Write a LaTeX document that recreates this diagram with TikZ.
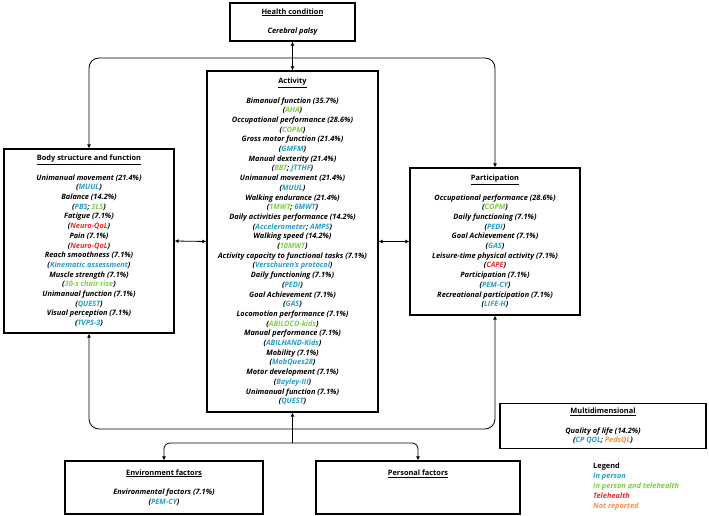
\documentclass[tikz,border=0pt]{standalone}
\usepackage{fontspec}
\setmainfont{Open Sans}
\usepackage{tikz}
\usetikzlibrary{arrows.meta}
\definecolor{inperson}{RGB}{35,158,200}
\definecolor{hybrid}{RGB}{125,205,70}
\definecolor{telecol}{RGB}{232,45,40}
\definecolor{notrepcol}{RGB}{245,145,70}
\newcommand{\inp}[1]{\textcolor{inperson}{#1}}
\newcommand{\hyb}[1]{\textcolor{hybrid}{#1}}
\newcommand{\tele}[1]{\textcolor{telecol}{#1}}
\newcommand{\notrep}[1]{\textcolor{notrepcol}{#1}}
\newcommand{\ttl}[1]{{\upshape\underline{#1}}\\[9.7pt]}

\begin{document}
\begin{tikzpicture}[x=1pt, y=-1pt,
    box/.style={draw, line width=1.2pt, align=center, inner sep=0pt,
      font=\fontsize{7.4}{9.7}\selectfont\bfseries\itshape},
    link/.style={line width=0.8pt, -{Latex[length=4pt,width=4pt]}},
    twoway/.style={line width=0.8pt, {Latex[length=4pt,width=4pt]}-{Latex[length=4pt,width=4pt]}}]
    \useasboundingbox (0,0) rectangle (709,516);

    \node[box, minimum width=125pt, minimum height=38pt] (health) at (292.5,22)
      {\ttl{Health condition}Cerebral palsy};

    \node[box, minimum width=171pt, minimum height=341pt] (activity) at (292.5,241.5)
      {\ttl{Activity}
       Bimanual function (35.7\%)\\(\hyb{AHA})\\
       Occupational performance (28.6\%)\\(\hyb{COPM})\\
       Gross motor function (21.4\%)\\(\inp{GMFM})\\
       Manual dexterity (21.4\%)\\(\hyb{BBT}; \inp{JTTHF})\\
       Unimanual movement (21.4\%)\\(\inp{MUUL})\\
       Walking endurance (21.4\%)\\(\hyb{1MWT}; \inp{6MWT})\\
       Daily activities performance (14.2\%)\\(\inp{Accelerometer}; \inp{AMPS})\\
       Walking speed (14.2\%)\\(\hyb{10MWT})\\
       Activity capacity to functional tasks (7.1\%)\\(\inp{Verschuren’s protocol})\\
       Daily functioning (7.1\%)\\(\inp{PEDI})\\
       Goal Achievement (7.1\%)\\(\inp{GAS})\\
       Locomotion performance (7.1\%)\\(\hyb{ABILOCO-kids})\\
       Manual performance (7.1\%)\\(\inp{ABILHAND-Kids})\\
       Mobility (7.1\%)\\(\inp{MobQues28})\\
       Motor development (7.1\%)\\(\inp{Bayley-III})\\
       Unimanual function (7.1\%)\\(\inp{QUEST})};

    \node[box, minimum width=170pt, minimum height=184pt] (body) at (89,241)
      {\ttl{Body structure and function}
       Unimanual movement (21.4\%)\\(\inp{MUUL})\\
       Balance (14.2\%)\\(\inp{PBS}; \hyb{SLS})\\
       Fatigue (7.1\%)\\(\tele{Neuro-QoL})\\
       Pain (7.1\%)\\(\tele{Neuro-QoL})\\
       Reach smoothness (7.1\%)\\(\inp{Kinematic assessment})\\
       Muscle strength (7.1\%)\\(\hyb{30-s chair rise})\\
       Unimanual function (7.1\%)\\(\inp{QUEST})\\
       Visual perception (7.1\%)\\(\inp{TVPS-3})};

    \node[box, minimum width=170pt, minimum height=147pt] (part) at (495,241.5)
      {\ttl{Participation}
       Occupational performance (28.6\%)\\(\hyb{COPM})\\
       Daily functioning (7.1\%)\\(\inp{PEDI})\\
       Goal Achievement (7.1\%)\\(\inp{GAS})\\
       Leisure-time physical activity (7.1\%)\\(\tele{CAPE})\\
       Participation (7.1\%)\\(\inp{PEM-CY})\\
       Recreational participation (7.1\%)\\(\inp{LIFE-H})};

    \node[box, minimum width=206pt, minimum height=45pt] (multi) at (603,426)
      {\ttl{Multidimensional}
       Quality of life (14.2\%)\\(\inp{CP QOL}; \notrep{PedsQL})};

    \node[box, minimum width=198pt, minimum height=53pt] (env) at (164,487.5)
      {\ttl{Environment factors}
       Environmental factors (7.1\%)\\(\inp{PEM-CY})};

    \node[box, minimum width=204pt, minimum height=53pt] (pers) at (418,487.5)
      {\ttl{Personal factors}\mbox{}\\\mbox{}};

    \node[align=left, anchor=north west, inner sep=0pt,
      font=\fontsize{7.4}{10}\selectfont\bfseries] (legend) at (593,463)
      {Legend\\
       \itshape\inp{In person}\\
       \itshape\hyb{In person and telehealth}\\
       \itshape\tele{Telehealth}\\
       \itshape\notrep{Not reported}};

    % connectors
    \coordinate (toploop) at (292.5,58);
    \coordinate (botloop) at (292.5,429);
    \coordinate (branch) at (292.5,443);

    \draw[twoway] (health.south) -- (activity.north);
    \draw[twoway, rounded corners=10pt] (body.north) |- (toploop) -| (part.north);
    \draw[twoway] (body.east) -- (activity.west);
    \draw[twoway] (activity.east) -- (part.west);
    \draw[twoway, rounded corners=10pt] (body.south) |- (botloop) -| (part.south);
    \draw[link] (branch) -- (activity.south);
    \draw[link, rounded corners=6pt] (branch) -| (env.north);
    \draw[link, rounded corners=6pt] (branch) -| (pers.north);
\end{tikzpicture}
\end{document}
